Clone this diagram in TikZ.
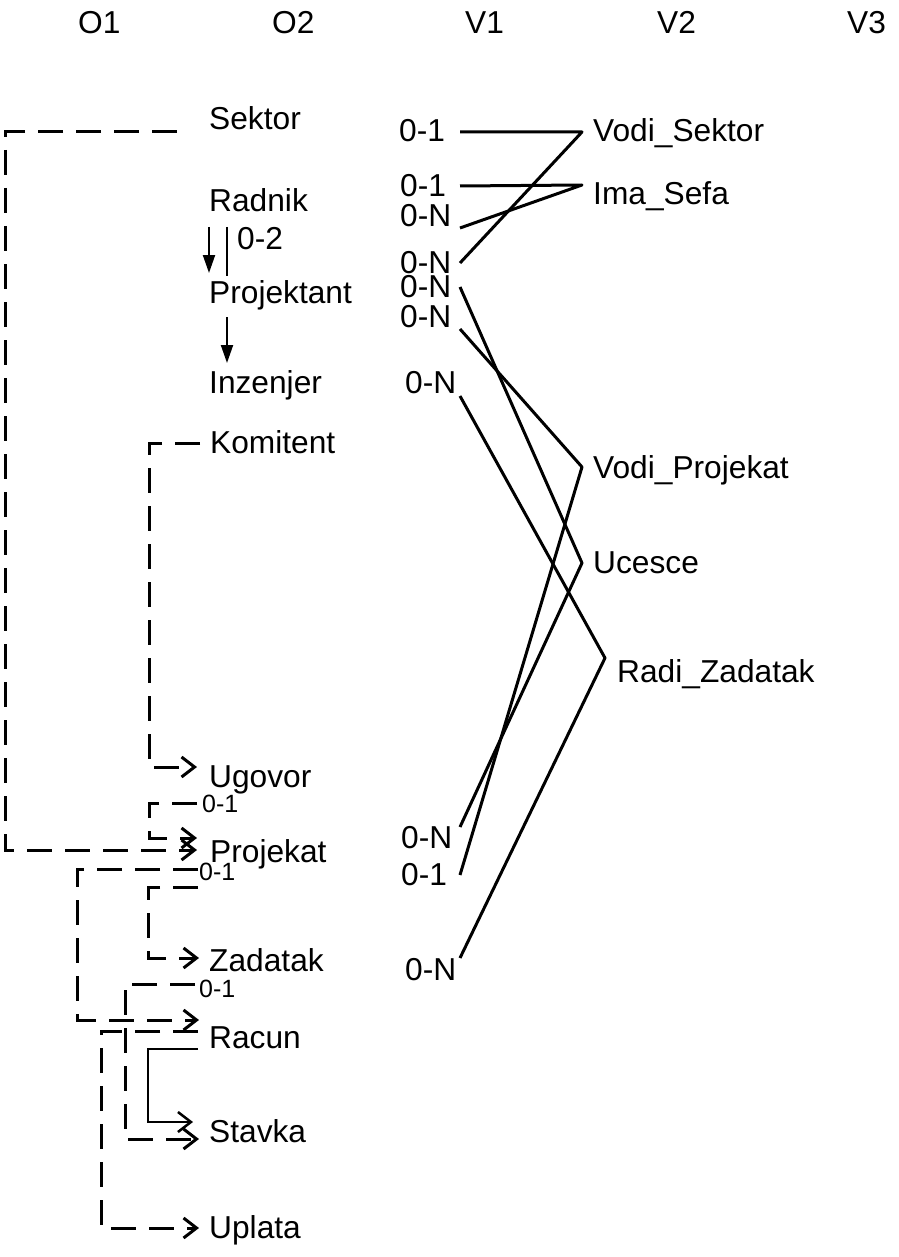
\documentclass[tikz,border=0pt]{standalone}
\usepackage{fontspec}
\setmainfont{Liberation Sans}
\usetikzlibrary{arrows.meta}
\usetikzlibrary{calc}

\tikzset{
  lbl/.style={anchor=base west,inner sep=0pt,font=\fontsize{31.7}{32}\selectfont},
  small/.style={anchor=base west,inner sep=0pt,font=\fontsize{25}{25}\selectfont},
  dashline/.style={line width=3pt,dash pattern=on 25pt off 13pt,-{Straight Barb[length=13pt,width=20pt]}},
  link/.style={line width=3pt,line join=round},
  isa/.style={line width=2pt,-{Triangle[length=18pt,width=12pt]}},
}

\begin{document}
\begin{tikzpicture}[x=1pt,y=-1pt]
\useasboundingbox (0,0) rectangle (898,1257);

% column headers
\node[lbl] (o1) at (78,34) {O1};
\node[lbl] (o2) at (272,34) {O2};
\node[lbl] (v1) at (465,34) {V1};
\node[lbl] (v2) at (657,34) {V2};
\node[lbl] (v3) at (847,34) {V3};

% objects
\node[lbl] (sektor) at (209,130) {Sektor};
\node[lbl] (radnik) at (209,212) {Radnik};
\node[lbl] (projektant) at (209,303) {Projektant};
\node[lbl] (inzenjer) at (209,393) {Inzenjer};
\node[lbl] (komitent) at (210,453) {Komitent};
\node[lbl] (ugovor) at (209,787) {Ugovor};
\node[lbl] (projekat) at (210,862) {Projekat};
\node[lbl] (zadatak) at (209,971) {Zadatak};
\node[lbl] (racun) at (209,1048) {Racun};
\node[lbl] (stavka) at (209,1142) {Stavka};
\node[lbl] (uplata) at (209,1238) {Uplata};

\node[small] (u01) at (202,812) {0-1};
\node[small] (p01) at (199,880) {0-1};
\node[small] (z01) at (199,997) {0-1};

% generalisation
\draw[isa] ($(radnik.base west)+(0,15)$) -- ($(projektant.base west)+(0,-30)$);
\draw[line width=2pt] ($(radnik.base west)+(18,15)$) -- ($(projektant.base west)+(18,-27)$);
\node[lbl] (k02) at (237,250) {0-2};
\draw[isa] ($(projektant.base west)+(18,14)$) -- ($(inzenjer.base west)+(18,-30)$);

% dependencies
\draw[dashline] ($(sektor.base west)+(-32,2)$) -- ++(-172,0) |- ($(projekat.base west)+(-13,-12)$);
\draw[dashline] ($(komitent.base west)+(-10,-10)$) -- ++(-51,0) |- ($(ugovor.base west)+(-12,-20)$);
\draw[dashline] ($(u01.west)+(-5,0)$) -- ++(-48,0) |- ($(projekat.base west)+(-13,-24)$);
\draw[dashline] ($(p01.west)+(-1,-2)$) -- ++(-121,0) |- ($(racun.base west)+(-10,-28)$);
\draw[dashline] ($(projekat.base west)+(-12,25)$) -- ++(-50,0) |- ($(zadatak.base west)+(-10,-13)$);
\draw[dashline] ($(z01.west)+(-4,-4)$) -- ++(-70,0) |- ($(stavka.base west)+(-10,-3)$);
\draw[dashline] ($(racun.base west)+(-11,-17)$) -- ++(-97,0) |- ($(uplata.base west)+(-10,-10)$);
\draw[line width=2.5pt,-{Straight Barb[length=13pt,width=20pt]}] ($(racun.base west)+(-11,1)$) -- ++(-50,0) |- ($(stavka.base west)+(-16,-20)$);

% cardinalities
\node[lbl] (k1) at (399,142) {0-1};
\node[lbl] (k2) at (400,197) {0-1};
\node[lbl] (k3) at (400,227) {0-N};
\node[lbl] (k4) at (400,273) {0-N};
\node[lbl] (k5) at (400,297) {0-N};
\node[lbl] (k6) at (400,327) {0-N};
\node[lbl] (k7) at (405,393) {0-N};
\node[lbl] (k8) at (401,848) {0-N};
\node[lbl] (k9) at (401,885) {0-1};
\node[lbl] (k10) at (405,980) {0-N};

% relationships
\node[lbl] (vodiSektor) at (593,142) {Vodi\_Sektor};
\node[lbl] (imaSefa) at (593,205) {Ima\_Sefa};
\node[lbl] (vodiProjekat) at (593,478) {Vodi\_Projekat};
\node[lbl] (ucesce) at (593,573) {Ucesce};
\node[lbl] (radiZadatak) at (617,682) {Radi\_Zadatak};

\draw[link] ($(k1.base west)+(61,-10)$) -- ($(vodiSektor.base west)+(-11,-10)$) -- ($(k4.base west)+(60,-10)$);
\draw[link] ($(k2.base west)+(60,-11)$) -- ($(imaSefa.base west)+(-11,-20)$) -- ($(k3.base west)+(60,1)$);
\draw[link] ($(k6.base west)+(60,2)$) -- ($(vodiProjekat.base west)+(-11,-11)$) -- ($(k9.base west)+(59,-10)$);
\draw[link] ($(k5.base west)+(60,-10)$) -- ($(ucesce.base west)+(-11,-10)$) -- ($(k8.base west)+(59,-21)$);
\draw[link] ($(k7.base west)+(55,3)$) -- ($(radiZadatak.base west)+(-12,-24)$) -- ($(k10.base west)+(55,-22)$);
\end{tikzpicture}
\end{document}
